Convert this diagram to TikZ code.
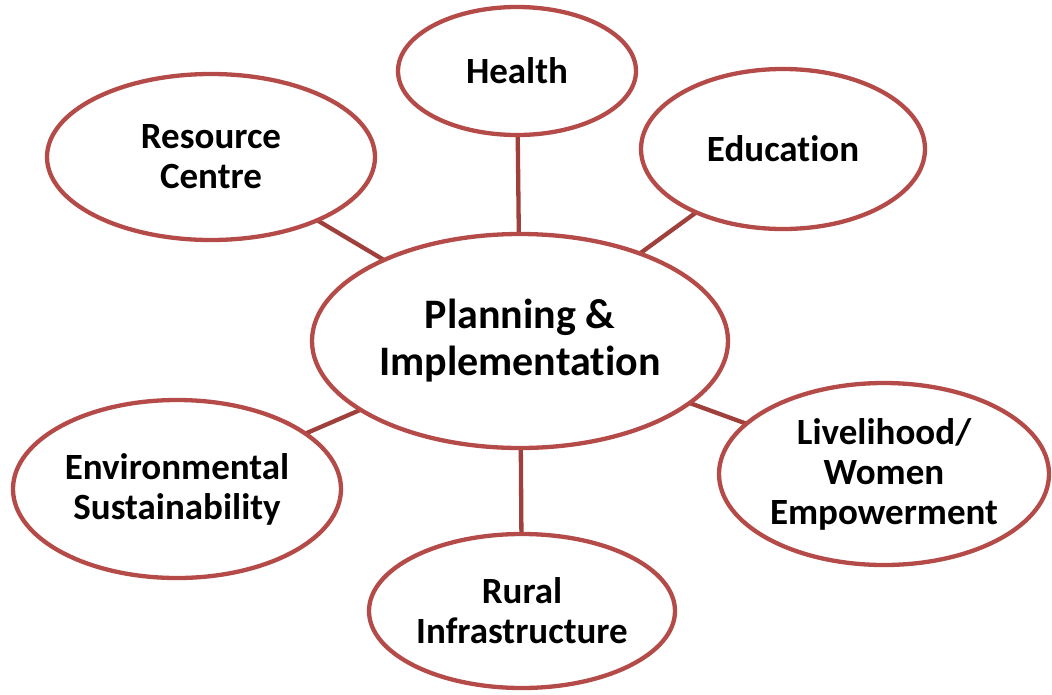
\documentclass[tikz,border=0pt]{standalone}
\usepackage{fontspec}
\setmainfont{Carlito}[Ligatures=NoCommon]
\usetikzlibrary{shapes.geometric,backgrounds}
\definecolor{ringred}{RGB}{180,75,72}
\definecolor{linkred}{RGB}{160,64,60}
\tikzset{
  ell/.style={ellipse, draw=ringred, line width=4.3pt, fill=white, inner sep=0pt, outer sep=0pt},
  lbl/.style={align=center, inner sep=0pt, font=\fontsize{37}{40}\selectfont\bfseries},
  biglbl/.style={align=center, inner sep=0pt, font=\fontsize{42}{47}\selectfont\bfseries},
  link/.style={draw=linkred, line width=4.3pt}
}
\begin{document}
\begin{tikzpicture}[x=1pt,y=-1pt]
\useasboundingbox (0,0) rectangle (1052,694);
% ellipses
\node[ell, minimum width=416pt, minimum height=214pt] (plan) at (520,341) {};
\node[ell, minimum width=238pt, minimum height=128pt] (health) at (517,71) {};
\node[ell, minimum width=284pt, minimum height=160pt] (edu) at (783,149) {};
\node[ell, minimum width=328pt, minimum height=166pt] (res) at (211,157) {};
\node[ell, minimum width=328pt, minimum height=178pt] (env) at (177,489) {};
\node[ell, minimum width=330pt, minimum height=182pt] (liv) at (884,474) {};
\node[ell, minimum width=306pt, minimum height=154pt] (rur) at (522,611) {};
% labels
\node[biglbl] (tplan) at (plan) {Planning \&\\Implementation};
\node[lbl] (thealth) at (health) {Health};
\node[lbl] (tedu) at (edu) {Education};
\node[lbl] (tres) at (res) {Resource\\Centre};
\node[lbl] (tenv) at (env) {Environmental\\Sustainability};
\node[lbl] (tliv) at (liv) {Livelihood/\\Women\\Empowerment};
\node[lbl] (trur) at (rur) {Rural\\Infrastructure};
% connectors
\begin{pgfonlayer}{background}
\draw[link] (health) -- (plan);
\draw[link] (edu) -- (plan);
\draw[link] (res) -- (plan);
\draw[link] (env) -- (plan);
\draw[link] (liv) -- (plan);
\draw[link] (rur) -- (plan);
\end{pgfonlayer}
\end{tikzpicture}
\end{document}
